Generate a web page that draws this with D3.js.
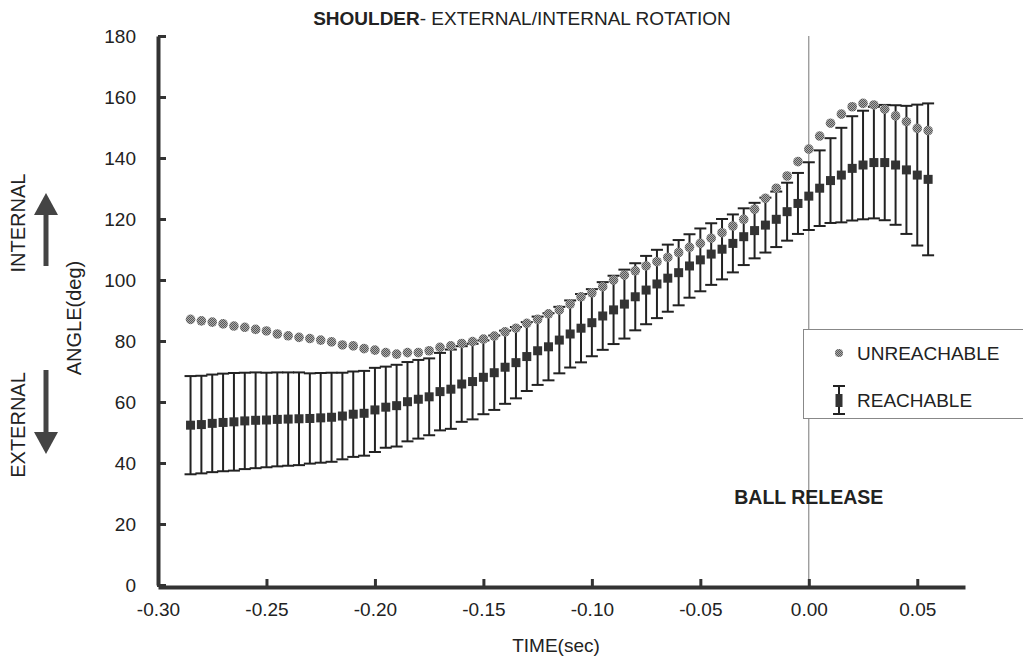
<!DOCTYPE html>
<html>
<head>
<meta charset="utf-8">
<script src="https://cdn.jsdelivr.net/npm/d3@7"></script>
<style>
  body { margin: 0; background: #fff; }
  svg text { font-family: "Liberation Sans", Arial, Helvetica, sans-serif; fill: #222; }
</style>
</head>
<body>
<svg id="chart" width="1023" height="659"></svg>
<script>
// time (sec) of each sample
const times = [
  -0.285, -0.280, -0.275, -0.270, -0.265, -0.260, -0.255, -0.250, -0.245, -0.240,
  -0.235, -0.230, -0.225, -0.220, -0.215, -0.210, -0.205, -0.200, -0.195, -0.190,
  -0.185, -0.180, -0.175, -0.170, -0.165, -0.160, -0.155, -0.150, -0.145, -0.140,
  -0.135, -0.130, -0.125, -0.120, -0.115, -0.110, -0.105, -0.100, -0.095, -0.090,
  -0.085, -0.080, -0.075, -0.070, -0.065, -0.060, -0.055, -0.050, -0.045, -0.040,
  -0.035, -0.030, -0.025, -0.020, -0.015, -0.010, -0.005, 0.000, 0.005, 0.010,
  0.015, 0.020, 0.025, 0.030, 0.035, 0.040, 0.045, 0.050, 0.055,
];

// UNREACHABLE (mean angle, deg)
const unreachable = [
  87.1, 86.6, 86.2, 85.6, 84.9, 84.5, 83.8, 83.3, 82.3, 81.7,
  81.2, 80.8, 80.3, 79.7, 78.7, 78.4, 77.5, 77.0, 76.2, 75.7,
  76.2, 76.2, 76.8, 77.9, 78.4, 79.2, 79.8, 80.6, 81.6, 83.0,
  84.2, 85.8, 87.1, 88.9, 90.2, 92.1, 94.5, 95.8, 97.8, 100.0,
  101.6, 103.0, 104.6, 106.0, 107.4, 109.0, 110.7, 112.0, 113.7, 115.5,
  117.7, 119.9, 123.2, 126.8, 130.1, 134.1, 138.8, 142.9, 147.2, 151.4,
  154.4, 156.8, 157.9, 157.4, 156.0, 153.8, 151.9, 149.7, 149.0,
];

// REACHABLE (mean angle and SD, deg)
const reachMean = [
  52.4, 52.6, 53.0, 53.3, 53.5, 53.8, 54.0, 54.1, 54.3, 54.4,
  54.5, 54.6, 54.8, 55.0, 55.4, 56.0, 56.3, 57.4, 58.3, 58.8,
  60.1, 60.9, 61.7, 63.4, 64.2, 65.9, 66.7, 68.1, 69.6, 71.4,
  72.9, 74.9, 76.8, 78.1, 80.3, 82.3, 84.2, 86.0, 88.2, 90.2,
  92.1, 94.5, 96.7, 98.7, 100.6, 102.4, 104.6, 106.6, 108.5, 110.1,
  112.0, 114.2, 116.2, 118.0, 119.9, 122.4, 125.1, 127.5, 130.1, 132.6,
  134.4, 136.6, 137.7, 138.5, 138.5, 137.7, 136.1, 134.4, 133.0,
];
const reachSd = [
  16.1, 16.0, 16.0, 16.0, 16.0, 15.8, 15.7, 15.5, 15.4, 15.3,
  15.2, 14.8, 14.7, 14.6, 14.2, 14.0, 13.9, 13.8, 13.3, 13.4,
  13.0, 12.9, 12.6, 12.7, 13.0, 12.4, 12.4, 12.1, 12.2, 12.0,
  11.7, 11.3, 11.2, 11.0, 10.9, 11.0, 11.2, 11.0, 11.1, 11.2,
  11.3, 11.0, 11.2, 11.2, 11.0, 10.7, 10.4, 10.3, 10.1, 9.9,
  9.5, 9.3, 9.1, 9.0, 9.1, 9.5, 10.0, 11.1, 12.4, 13.9,
  15.5, 17.1, 17.8, 18.3, 18.9, 19.6, 21.0, 23.1, 24.9,
];

const xTicks = [-0.30, -0.25, -0.20, -0.15, -0.10, -0.05, 0.00, 0.05];
const yTicks = [0, 20, 40, 60, 80, 100, 120, 140, 160, 180];
const legendLabels = ['UNREACHABLE', 'REACHABLE'];

const svg = d3.select('#chart');
const cs = {
  pallette: {
    axis: '#333',
    bar: '#222',
    square: '#333',
    dotLight: '#aaaaaa',
    dotDark: '#585858',
    arrow: '#444',
    release: '#777',
  },
  x: { left: 158, right: 965 },
  y: { bottom: 585, top: 36 },
  font: 19,
};

cs.x.scale = d3.scaleLinear().domain([-0.30, 0.072]).range([cs.x.left, cs.x.right]);
cs.y.scale = d3.scaleLinear().domain([0, 180]).range([cs.y.bottom, cs.y.top]);
const x = cs.x.scale;
const y = cs.y.scale;

// dithered grey fill for the unreachable dots
const pat = svg.append('defs').append('pattern')
  .attr('id', 'dither').attr('width', 2).attr('height', 2)
  .attr('patternUnits', 'userSpaceOnUse');
pat.append('rect').attr('width', 2).attr('height', 2).attr('fill', cs.pallette.dotLight);
pat.append('rect').attr('width', 1).attr('height', 1).attr('fill', cs.pallette.dotDark);
pat.append('rect').attr('x', 1).attr('y', 1).attr('width', 1).attr('height', 1).attr('fill', cs.pallette.dotDark);

// title
const title = svg.append('text')
  .attr('x', 522).attr('y', 25)
  .attr('text-anchor', 'middle')
  .style('font-size', '19px');
title.append('tspan').attr('font-weight', 'bold').text('SHOULDER');
title.append('tspan').text('- EXTERNAL/INTERNAL ROTATION');

// ball release line
svg.append('line')
  .attr('x1', x(0)).attr('x2', x(0))
  .attr('y1', cs.y.top).attr('y2', cs.y.bottom)
  .attr('stroke', cs.pallette.release).attr('stroke-width', 1);

svg.append('text')
  .attr('x', x(0)).attr('y', 504)
  .attr('text-anchor', 'middle')
  .attr('font-weight', 'bold')
  .style('font-size', '19.5px')
  .text('BALL RELEASE');

// axes
const styleAxis = (g) => {
  g.select('.domain').attr('stroke', cs.pallette.axis).attr('stroke-width', 4);
  g.selectAll('.tick line').attr('stroke', cs.pallette.axis).attr('stroke-width', 3);
  g.selectAll('.tick text').style('font-size', `${cs.font}px`).attr('fill', '#222')
    .style('font-family', '"Liberation Sans", Arial, sans-serif');
};

svg.append('g')
  .attr('transform', `translate(0,${cs.y.bottom + 2})`)
  .call(d3.axisBottom(x).tickValues(xTicks).tickFormat(d => d.toFixed(2))
    .tickSizeInner(-8).tickSizeOuter(0).tickPadding(16))
  .call(styleAxis);

svg.append('g')
  .attr('transform', `translate(${cs.x.left},0)`)
  .call(d3.axisLeft(y).tickValues(yTicks).tickFormat(d3.format('d'))
    .tickSizeInner(-8).tickSizeOuter(0).tickPadding(22))
  .call(styleAxis);

// axis titles
svg.append('text')
  .attr('x', 556).attr('y', 652)
  .attr('text-anchor', 'middle')
  .style('font-size', '19px')
  .text('TIME(sec)');

svg.append('text')
  .attr('transform', 'translate(81,318) rotate(-90)')
  .attr('text-anchor', 'middle')
  .style('font-size', '20px')
  .text('ANGLE(deg)');

svg.append('text')
  .attr('transform', 'translate(25,223) rotate(-90)')
  .attr('text-anchor', 'middle')
  .style('font-size', '20px')
  .text('INTERNAL');

svg.append('text')
  .attr('transform', 'translate(25,425) rotate(-90)')
  .attr('text-anchor', 'middle')
  .style('font-size', '20px')
  .text('EXTERNAL');

// direction arrows
const arrow = (x0, tail, base, tip) => {
  svg.append('line')
    .attr('x1', x0).attr('x2', x0).attr('y1', tail).attr('y2', base)
    .attr('stroke', cs.pallette.arrow).attr('stroke-width', 5);
  svg.append('path')
    .attr('d', `M${x0 - 12},${base}L${x0 + 12},${base}L${x0},${tip}Z`)
    .attr('fill', cs.pallette.arrow);
};
arrow(46, 266, 215, 193);
arrow(46, 370, 432, 454);

// reachable: error bars + squares
const pts = times.map((t, i) => ({
  t, u: unreachable[i], m: reachMean[i], sd: reachSd[i],
}));

const bars = svg.append('g').selectAll('g').data(pts).enter().append('g');
bars.append('line')
  .attr('x1', d => x(d.t)).attr('x2', d => x(d.t))
  .attr('y1', d => y(d.m + d.sd)).attr('y2', d => y(d.m - d.sd))
  .attr('stroke', cs.pallette.bar).attr('stroke-width', 2);
[1, -1].forEach((s) => {
  bars.append('line')
    .attr('x1', d => x(d.t) - 6).attr('x2', d => x(d.t) + 6)
    .attr('y1', d => y(d.m + s * d.sd)).attr('y2', d => y(d.m + s * d.sd))
    .attr('stroke', cs.pallette.bar).attr('stroke-width', 2);
});
bars.append('rect')
  .attr('x', d => x(d.t) - 4.5).attr('y', d => y(d.m) - 4.5)
  .attr('width', 9).attr('height', 9)
  .attr('fill', cs.pallette.square);

// unreachable dots
svg.append('g').selectAll('circle').data(pts).enter()
  .append('circle')
  .attr('cx', d => x(d.t)).attr('cy', d => y(d.u))
  .attr('r', 4.8)
  .attr('fill', 'url(#dither)');

// legend
const lg = svg.append('g');
lg.append('rect')
  .attr('x', 803.5).attr('y', 329.5).attr('width', 240).attr('height', 89)
  .attr('fill', '#fff').attr('stroke', '#888').attr('stroke-width', 1);
lg.append('circle').attr('cx', 839).attr('cy', 353).attr('r', 4)
  .attr('fill', 'url(#dither)');
lg.append('line').attr('x1', 839).attr('x2', 839).attr('y1', 386).attr('y2', 414)
  .attr('stroke', cs.pallette.bar).attr('stroke-width', 2);
[386, 414].forEach((yy) => {
  lg.append('line').attr('x1', 833).attr('x2', 845).attr('y1', yy).attr('y2', yy)
    .attr('stroke', cs.pallette.bar).attr('stroke-width', 2);
});
lg.append('rect').attr('x', 835.5).attr('y', 394).attr('width', 7).attr('height', 13)
  .attr('fill', cs.pallette.square);
lg.selectAll('text.lab').data(legendLabels).enter()
  .append('text')
  .attr('class', 'lab')
  .attr('x', 857)
  .attr('y', (d, i) => 360 + i * 47)
  .style('font-size', '19px')
  .text(d => d);
</script>
</body>
</html>
